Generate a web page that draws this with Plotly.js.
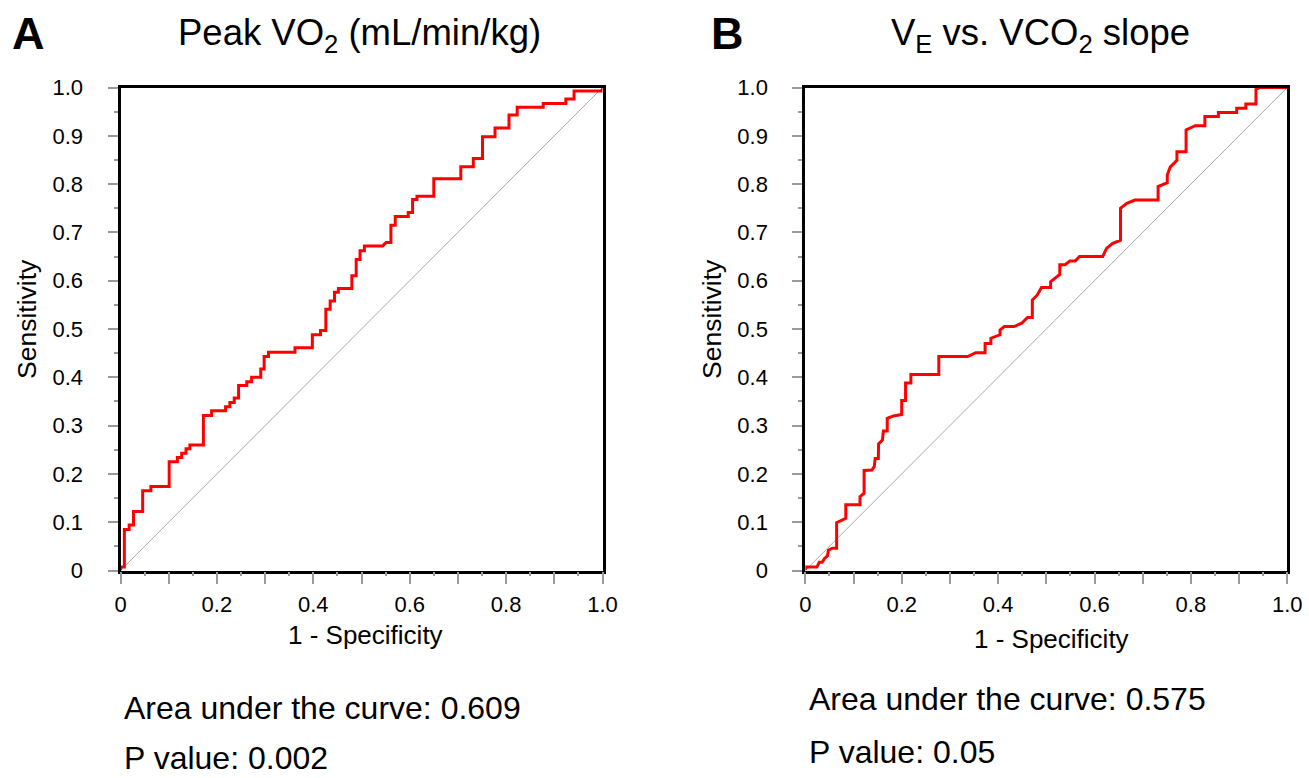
<!DOCTYPE html>
<html>
<head>
<meta charset="utf-8">
<script src="https://cdn.plot.ly/plotly-3.0.1.min.js"></script>
<style>
html,body{margin:0;padding:0;background:#fff;}
#chart{width:1309px;height:778px;}
</style>
</head>
<body>
<div id="chart"></div>
<script>
// Panel A: Peak VO2 ROC curve (1 - specificity, sensitivity)
const fprA = [0,0,0.008,0.008,0.018,0.018,0.027,0.027,0.046,0.046,0.063,0.063,0.101,0.101,0.118,0.118,0.127,0.127,0.136,0.136,0.144,0.144,0.172,0.172,0.189,0.189,0.218,0.218,0.227,0.227,0.236,0.236,0.245,0.245,0.262,0.262,0.272,0.272,0.291,0.291,0.298,0.298,0.307,0.307,0.362,0.362,0.398,0.398,0.415,0.415,0.426,0.426,0.435,0.435,0.444,0.444,0.452,0.452,0.480,0.480,0.489,0.489,0.497,0.497,0.506,0.506,0.544,0.551,0.561,0.561,0.570,0.570,0.597,0.597,0.606,0.606,0.615,0.615,0.650,0.650,0.706,0.706,0.732,0.732,0.751,0.751,0.777,0.777,0.806,0.806,0.823,0.823,0.877,0.877,0.924,0.924,0.941,0.941,1.0,1.0];
const tprA = [0,0.007,0.007,0.085,0.085,0.094,0.094,0.122,0.122,0.165,0.165,0.174,0.174,0.225,0.225,0.234,0.234,0.243,0.243,0.252,0.252,0.260,0.260,0.321,0.321,0.331,0.331,0.339,0.339,0.348,0.348,0.357,0.357,0.383,0.383,0.391,0.391,0.400,0.400,0.417,0.417,0.443,0.443,0.452,0.452,0.461,0.461,0.488,0.488,0.497,0.497,0.541,0.541,0.558,0.558,0.576,0.576,0.584,0.584,0.610,0.610,0.644,0.644,0.662,0.662,0.672,0.672,0.679,0.679,0.715,0.715,0.733,0.733,0.741,0.741,0.768,0.768,0.775,0.775,0.811,0.811,0.836,0.836,0.853,0.853,0.898,0.898,0.916,0.916,0.943,0.943,0.959,0.959,0.967,0.967,0.976,0.976,0.993,0.993,1.0];

// Panel B: VE vs. VCO2 slope ROC curve
const fprB = [0,0,0.024,0.029,0.035,0.040,0.046,0.048,0.056,0.065,0.065,0.079,0.084,0.084,0.1135,0.1135,0.122,0.122,0.138,0.143,0.145,0.1515,0.152,0.160,0.162,0.170,0.170,0.183,0.200,0.200,0.208,0.208,0.219,0.219,0.277,0.277,0.337,0.3535,0.373,0.373,0.385,0.385,0.404,0.404,0.413,0.433,0.449,0.461,0.471,0.471,0.481,0.490,0.509,0.509,0.528,0.528,0.539,0.549,0.560,0.569,0.617,0.625,0.637,0.654,0.654,0.667,0.684,0.732,0.732,0.751,0.751,0.757,0.771,0.771,0.790,0.790,0.809,0.829,0.829,0.857,0.857,0.895,0.895,0.914,0.914,0.935,0.935,0.943,1.0];
const tprB = [0,0.007,0.007,0.017,0.017,0.025,0.030,0.042,0.046,0.046,0.099,0.105,0.108,0.136,0.136,0.153,0.160,0.207,0.208,0.215,0.232,0.232,0.262,0.270,0.289,0.289,0.315,0.320,0.323,0.352,0.352,0.388,0.388,0.406,0.406,0.443,0.443,0.451,0.451,0.470,0.470,0.481,0.488,0.498,0.505,0.505,0.512,0.524,0.524,0.560,0.570,0.586,0.586,0.598,0.613,0.633,0.633,0.641,0.641,0.650,0.650,0.667,0.677,0.684,0.750,0.760,0.767,0.767,0.795,0.803,0.819,0.835,0.849,0.867,0.867,0.912,0.921,0.921,0.940,0.940,0.948,0.948,0.957,0.957,0.966,0.966,0.996,1.0,1.0];

// Chance diagonal
const refX = [0, 1];
const refY = [0, 1];

const titles = ['Peak VO<sub>2</sub> (mL/min/kg)', 'V<sub>E</sub> vs. VCO<sub>2</sub> slope'];
const panelLetters = ['A', 'B'];
const aucText = ['Area under the curve: 0.609', 'Area under the curve: 0.575'];
const pText = ['P value: 0.002', 'P value: 0.05'];
const xTitle = '1 - Specificity';
const yTitle = 'Sensitivity';
const yTickVals = [0,0.1,0.2,0.3,0.4,0.5,0.6,0.7,0.8,0.9,1.0];
const yTickText = ['0','0.1','0.2','0.3','0.4','0.5','0.6','0.7','0.8','0.9','1.0'];
const xTickVals = [0,0.2,0.4,0.6,0.8,1.0];
const xTickText = ['0','0.2','0.4','0.6','0.8','1.0'];

const W = 1309, H = 778;
const FONT = 'Arial, "Liberation Sans", Helvetica, sans-serif';
const TICKGRAY = '#9a9a9a';
const px = v => v / W;
const py = v => 1 - v / H;

const traces = [
  {x: refX, y: refY, xaxis: 'x', yaxis: 'y', mode: 'lines', line: {color: '#a8a8a8', width: 1}, hoverinfo: 'skip'},
  {x: fprA, y: tprA, xaxis: 'x', yaxis: 'y', mode: 'lines', line: {color: '#ff0000', width: 3}},
  {x: refX, y: refY, xaxis: 'x2', yaxis: 'y2', mode: 'lines', line: {color: '#a8a8a8', width: 1}, hoverinfo: 'skip'},
  {x: fprB, y: tprB, xaxis: 'x2', yaxis: 'y2', mode: 'lines', line: {color: '#ff0000', width: 3}},
  // empty helpers so the short 0.05 tick axes are drawn
  {x: [], y: [], xaxis: 'x3', yaxis: 'y', mode: 'lines', hoverinfo: 'skip'},
  {x: [], y: [], xaxis: 'x4', yaxis: 'y2', mode: 'lines', hoverinfo: 'skip'}
];

function xa(domain, anchor) {
  return {
    domain: domain, anchor: anchor, range: [0, 1], fixedrange: true,
    showgrid: false, zeroline: false,
    showline: true, mirror: true, linecolor: '#000', linewidth: 3,
    ticks: 'outside', ticklen: 10, tickwidth: 2, tickcolor: TICKGRAY,
    tickmode: 'array', tickvals: xTickVals, ticktext: xTickText,
    ticklabelstandoff: 2,
    minor: {tickmode: 'linear', tick0: 0, dtick: 0.1, ticks: 'outside', ticklen: 10, tickwidth: 2, tickcolor: TICKGRAY, showgrid: false},
    tickfont: {family: FONT, size: 22, color: '#000'}
  };
}
function xaShort(overlay, anchor) {
  return {
    overlaying: overlay, anchor: anchor, range: [0, 1], fixedrange: true,
    showgrid: false, zeroline: false, showline: false, showticklabels: false,
    ticks: 'outside', ticklen: 4, tickwidth: 2, tickcolor: TICKGRAY,
    tickmode: 'linear', tick0: 0, dtick: 0.05, side: 'bottom'
  };
}
function ya(domain, anchor) {
  return {
    domain: domain, anchor: anchor, range: [0, 1], fixedrange: true,
    showgrid: false, zeroline: false,
    showline: true, mirror: true, linecolor: '#000', linewidth: 3,
    ticks: 'outside', ticklen: 10, tickwidth: 2, tickcolor: TICKGRAY,
    tickmode: 'array', tickvals: yTickVals, ticktext: yTickText,
    ticklabelstandoff: 20,
    minor: {tickmode: 'linear', tick0: 0, dtick: 0.05, ticks: 'outside', ticklen: 4, tickwidth: 2, tickcolor: TICKGRAY, showgrid: false},
    tickfont: {family: FONT, size: 22, color: '#000'}
  };
}

const yDom = [(H - 570.5) / H, (H - 87.5) / H];
const layout = {
  width: W, height: H,
  margin: {l: 0, r: 0, t: 0, b: 0},
  paper_bgcolor: '#fff', plot_bgcolor: '#fff',
  showlegend: false,
  font: {family: FONT, color: '#000'},
  xaxis: xa([px(120.5), px(602.5)], 'y'),
  yaxis: ya(yDom, 'x'),
  xaxis2: xa([px(805.3), px(1287.3)], 'y2'),
  yaxis2: ya(yDom, 'x2'),
  xaxis3: xaShort('x', 'y'),
  xaxis4: xaShort('x2', 'y2'),
  annotations: [
    {text: '<b>' + panelLetters[0] + '</b>', x: px(10), y: py(33), xref: 'paper', yref: 'paper', xanchor: 'left', yanchor: 'middle', showarrow: false, font: {family: FONT, size: 45}},
    {text: '<b>' + panelLetters[1] + '</b>', x: px(709), y: py(33), xref: 'paper', yref: 'paper', xanchor: 'left', yanchor: 'middle', showarrow: false, font: {family: FONT, size: 45}},
    {text: titles[0], x: px(359), y: py(35), xref: 'paper', yref: 'paper', xanchor: 'center', yanchor: 'middle', showarrow: false, font: {family: FONT, size: 36.5}},
    {text: titles[1], x: px(1040), y: py(35), xref: 'paper', yref: 'paper', xanchor: 'center', yanchor: 'middle', showarrow: false, font: {family: FONT, size: 36.5}},
    {text: yTitle, x: px(27), y: py(319), xref: 'paper', yref: 'paper', xanchor: 'center', yanchor: 'middle', textangle: -90, showarrow: false, font: {family: FONT, size: 26.5}},
    {text: yTitle, x: px(712), y: py(319), xref: 'paper', yref: 'paper', xanchor: 'center', yanchor: 'middle', textangle: -90, showarrow: false, font: {family: FONT, size: 26.5}},
    {text: xTitle, x: px(365), y: py(635), xref: 'paper', yref: 'paper', xanchor: 'center', yanchor: 'middle', showarrow: false, font: {family: FONT, size: 26}},
    {text: xTitle, x: px(1051), y: py(639), xref: 'paper', yref: 'paper', xanchor: 'center', yanchor: 'middle', showarrow: false, font: {family: FONT, size: 26}},
    {text: aucText[0], x: px(122), y: py(708), xref: 'paper', yref: 'paper', xanchor: 'left', yanchor: 'middle', showarrow: false, font: {family: FONT, size: 32}},
    {text: pText[0], x: px(122), y: py(758), xref: 'paper', yref: 'paper', xanchor: 'left', yanchor: 'middle', showarrow: false, font: {family: FONT, size: 32}},
    {text: aucText[1], x: px(807), y: py(699), xref: 'paper', yref: 'paper', xanchor: 'left', yanchor: 'middle', showarrow: false, font: {family: FONT, size: 32}},
    {text: pText[1], x: px(807), y: py(752), xref: 'paper', yref: 'paper', xanchor: 'left', yanchor: 'middle', showarrow: false, font: {family: FONT, size: 32}}
  ]
};

Plotly.newPlot('chart', traces, layout, {displayModeBar: false, staticPlot: true});
</script>
</body>
</html>
